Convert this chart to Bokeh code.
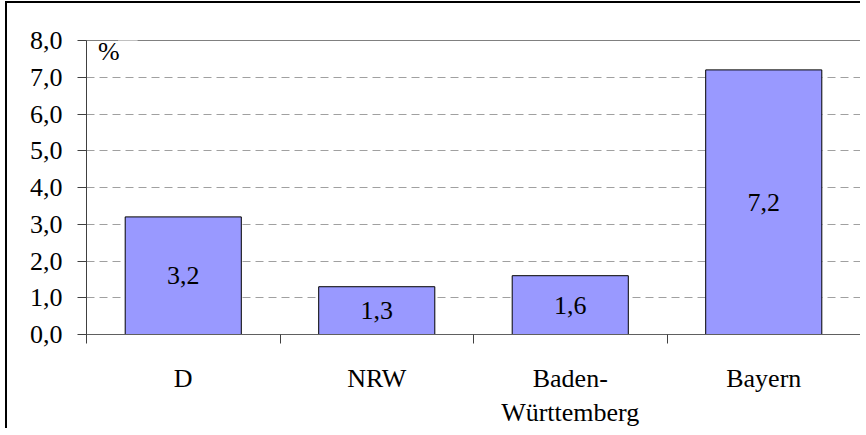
from bokeh.plotting import figure
from bokeh.models import FixedTicker, Label, ColumnDataSource, Range1d
from bokeh.core.properties import value
from bokeh.embed import file_html
from bokeh.resources import INLINE

categories = ["D", "NRW", "Baden-\nWürttemberg", "Bayern"]
values = [3.2, 1.3, 1.6, 7.2]
y_ticks = [0, 1, 2, 3, 4, 5, 6, 7, 8]
y_tick_labels = ["0,0", "1,0", "2,0", "3,0", "4,0", "5,0", "6,0", "7,0", "8,0"]
unit_label = "%"

FONT = "Liberation Serif"
FS = "26px"

xs = [i + 0.5 for i in range(len(categories))]
src = ColumnDataSource(dict(
    x=xs, top=values, mid=[v / 2 for v in values],
    lab=[f"{v:.1f}".replace(".", ",") for v in values],
))

p = figure(width=855, height=427, output_backend="svg", toolbar_location=None,
           x_range=Range1d(0, len(categories)), y_range=Range1d(0, 8),
           min_border_left=79, min_border_top=37, min_border_right=2, min_border_bottom=96)
p.styles = {"border-top": "2px solid black", "border-left": "2px solid black",
            "margin-left": "5px", "margin-top": "1px"}
p.background_fill_color = "white"
p.border_fill_color = "white"
p.outline_line_color = "#808080"
p.outline_line_width = 1

p.vbar(x="x", top="top", width=0.6, bottom=0, source=src,
       fill_color="#9999FF", line_color="black", line_width=1)
p.text(x="x", y="mid", text="lab", source=src, text_align="center", text_baseline="middle",
       text_font=value(FONT), text_font_size=FS, text_color="black")

# y axis
p.yaxis.ticker = FixedTicker(ticks=y_ticks)
p.yaxis.major_label_overrides = {t: l for t, l in zip(y_ticks, y_tick_labels)}
p.yaxis.major_label_text_font = FONT
p.yaxis.major_label_text_font_size = FS
p.yaxis.major_label_text_color = "black"
p.yaxis.major_tick_out = 9
p.yaxis.major_tick_in = 0
p.yaxis.minor_tick_line_color = None
p.yaxis.major_label_standoff = 15
p.yaxis.axis_line_color = "#404040"
p.yaxis.major_tick_line_color = "#404040"

# x axis
p.xaxis.ticker = FixedTicker(ticks=xs, minor_ticks=list(range(len(categories) + 1)))
p.xaxis.major_label_overrides = {x: c for x, c in zip(xs, categories)}
p.xaxis.major_label_text_font = FONT
p.xaxis.major_label_text_font_size = FS
p.xaxis.major_label_text_color = "black"
p.xaxis.major_tick_out = 0
p.xaxis.major_tick_in = 0
p.xaxis.minor_tick_out = 9
p.xaxis.minor_tick_in = 0
p.xaxis.minor_tick_line_color = "#404040"
p.xaxis.major_label_standoff = 20
p.xaxis.axis_line_color = "#606060"

p.xgrid.grid_line_color = None
p.ygrid.grid_line_color = "#a0a0a0"
p.ygrid.grid_line_dash = "8 5"
p.ygrid.grid_line_width = 1

p.add_layout(Label(x=0.06, y=8, y_offset=4, text=unit_label, text_font=FONT, text_font_size=FS,
                   text_baseline="top", text_color="black"))
p.add_layout(Label(x=0.06, y=8, x_offset=20, y_offset=-1, text=" ", text_font=FONT, text_font_size="6px",
                   text_baseline="middle", background_fill_color="white", padding=(2, 16, 2, 16)))

open("out.html", "w").write(file_html(p, INLINE))
